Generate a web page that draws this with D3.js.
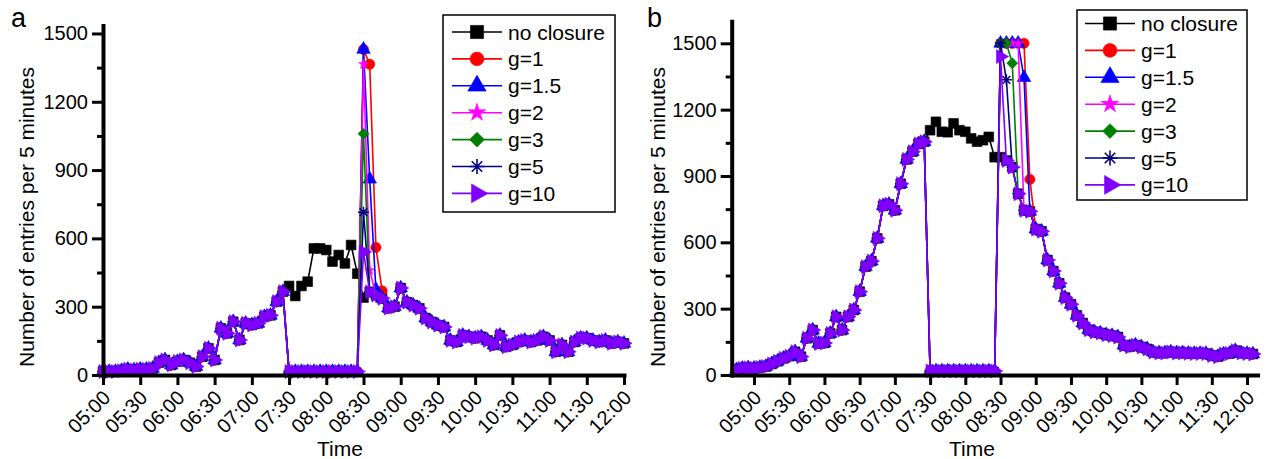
<!DOCTYPE html>
<html><head><meta charset="utf-8">
<script src="https://cdn.jsdelivr.net/npm/d3@7"></script>
<style>
body{margin:0;background:#fff;}
svg{display:block;font-family:"Liberation Sans",Arial,sans-serif;}
.domain{stroke:#000;stroke-width:4px;stroke-linecap:square;}
.tick line{stroke:#000;stroke-width:3px;}
.tick text{fill:#000;font-size:20px;font-family:"Liberation Sans",Arial,sans-serif;}
</style></head><body>
<svg id="chart" width="1266" height="459"></svg>
<script>
// ---------- shared ----------
const seriesNames  = ["no closure","g=1","g=1.5","g=2","g=3","g=5","g=10"];
const seriesColors = ["#000000","#ff0000","#0000ff","#ff00ff","#008000","#000080","#8000ff"];
const seriesSymbols = ["square","circle","triangle","star","diamond","asterisk","triangleRight"];
const timeTickLabels = ["05:00","05:30","06:00","06:30","07:00","07:30","08:00","08:30","09:00","09:30","10:00","10:30","11:00","11:30","12:00"];
const yTickValues = [0,300,600,900,1200,1500];
const yMinorTickValues = [150,450,750,1050,1350];
const stepMinutes = 5;

// ---------- panel a ----------
const startA = "05:00";
const noClosureA = [
 15,15,15,19,25,22,25,25,29,54,66,44,          // 05:00-05:55
 59,66,54,37,80,117,66,205,183,234,154,227,    // 06:00-06:55
 220,227,256,262,322,366,391,347,391,410,556,556, // 07:00-07:55
 549,498,527,490,571,445,340,365,351,337,294,300, // 08:00-08:55
 382,320,307,293,250,233,219,211,152,145,174,168, // 09:00-09:55
 162,168,152,132,174,124,132,145,152,145,152,168, // 10:00-10:55
 152,102,132,102,145,162,162,152,145,152,139,145, // 11:00-11:55
 139                                               // 12:00
];
const closureA = ["07:30","08:25"];
const closureLevelA = 15;
const recoveryStartA = "08:30";
const recoveryA_g1  = [1430,1365,560,370];
const recoveryA_g15 = [1430,860,375];
const recoveryA_g2  = [1365,460];
const recoveryA_g3  = [1060];
const recoveryA_g5  = [715];
const recoveryA_g10 = [540];

// ---------- panel b ----------
const startB = "04:45";
const noClosureB = [
 23,30,32,                                          // 04:45-04:55
 30,34,38,50,62,75,85,105,83,166,203,143,           // 05:00-05:55
 145,188,263,203,263,294,377,490,515,618,765,772,   // 06:00-06:55
 745,865,975,1010,1045,1055,1107,1145,1100,1098,1138,1107, // 07:00-07:55
 1100,1070,1055,1062,1077,985,985,970,940,820,745,740,     // 08:00-08:55
 660,650,520,470,415,350,320,270,235,205,195,190,   // 09:00-09:55
 182,178,172,135,128,135,127,118,104,100,100,104,   // 10:00-10:55
 100,100,98,97,97,97,88,83,95,97,110,100,           // 11:00-11:55
 97,95                                              // 12:00-12:05
];
const closureB = ["07:30","08:25"];
const closureLevelB = 18;
const recoveryStartB = "08:30";
const recoveryB_g1  = [1500,1500,1500,1500,1500,885];
const recoveryB_g15 = [1500,1500,1500,1500,1345];
const recoveryB_g2  = [1500,1500,1500,1500];
const recoveryB_g3  = [1500,1500,1410];
const recoveryB_g5  = [1500,1335];
const recoveryB_g10 = [1440];

// ---------- helpers ----------
const toMin = s => { const [h,m] = s.split(":").map(Number); return h*60+m; };

function buildSeries(base, start, closure, level, recStart, rec){
  const s0 = toMin(start), c0 = toMin(closure[0]), c1 = toMin(closure[1]), r0 = toMin(recStart);
  return base.map((v,i) => {
    const t = s0 + i*stepMinutes;
    let val = v;
    if (rec !== null) {
      if (t >= c0 && t <= c1) val = level;
      const k = (t - r0)/stepMinutes;
      if (k >= 0 && k < rec.length) val = rec[k];
    }
    return {t, v: val};
  });
}

function symbolPath(type, s){
  switch(type){
    case "square": return d3.symbol(d3.symbolSquare, s*s*0.95)();
    case "circle": return d3.symbol(d3.symbolCircle, Math.PI*(s/2)*(s/2)*1.05)();
    case "triangle": return d3.symbol(d3.symbolTriangle, s*s*0.8)();
    case "triangleRight": return d3.symbol(d3.symbolTriangle, s*s*0.85)();
    case "star": return d3.symbol(d3.symbolStar, s*s*0.3)();
    case "diamond": return d3.symbol(d3.symbolSquare, s*s*0.6)();
    case "asterisk": {
      const r = s*0.55; let p = "";
      for (let a = 0; a < 4; a++){
        const ang = a*Math.PI/4;
        const dx = r*Math.cos(ang), dy = r*Math.sin(ang);
        p += `M${-dx},${-dy}L${dx},${dy}`;
      }
      return p;
    }
  }
}
function symbolRotate(type){
  if (type === "triangleRight") return 90;
  if (type === "diamond") return 45;
  return 0;
}

const svg = d3.select("#chart");

function drawPanel(cfg){
  const x = d3.scaleLinear().domain(cfg.xDomain).range(cfg.xRange);
  const y = d3.scaleLinear().domain(cfg.yDomain).range(cfg.yRange);
  const g = svg.append("g");

  const all = [
    buildSeries(cfg.base, cfg.start, cfg.closure, cfg.level, cfg.recStart, null),
    ...cfg.recs.map(r => buildSeries(cfg.base, cfg.start, cfg.closure, cfg.level, cfg.recStart, r))
  ];
  const line = d3.line().x(d => x(d.t)).y(d => y(d.v));
  all.forEach((data, si) => {
    const col = seriesColors[si];
    g.append("path").datum(data).attr("d", line)
      .attr("fill","none").attr("stroke",col).attr("stroke-width",1.6).attr("stroke-linejoin","round");
    const sym = seriesSymbols[si];
    const sp = symbolPath(sym, cfg.marker);
    g.selectAll(null).data(data).enter().append("path")
      .attr("d", sp)
      .attr("transform", d => `translate(${x(d.t)},${y(d.v)}) rotate(${symbolRotate(sym)})`)
      .attr("fill", sym === "asterisk" ? "none" : col)
      .attr("stroke", col)
      .attr("stroke-width", sym === "asterisk" ? 1.5 : 0.6);
  });

  const yAxis = d3.axisLeft(y).tickValues(yTickValues).tickSize(11).tickSizeOuter(0).tickPadding(4)
    .tickFormat(d3.format("d"));
  const ya = g.append("g").attr("transform",`translate(${cfg.xRange[0]},0)`).call(yAxis);
  const yMinor = d3.axisLeft(y).tickValues(yMinorTickValues).tickSize(6).tickSizeOuter(0).tickFormat("");
  const ym = g.append("g").attr("transform",`translate(${cfg.xRange[0]},0)`).call(yMinor);
  ym.select(".domain").remove();

  const tickMins = timeTickLabels.map(toMin);
  const xAxis = d3.axisBottom(x).tickValues(tickMins).tickSize(10).tickSizeOuter(0)
    .tickFormat((d,i) => timeTickLabels[i]);
  const xa = g.append("g").attr("transform",`translate(0,${cfg.yRange[0]})`).call(xAxis);

  xa.selectAll(".tick text")
    .attr("x",0).attr("y",0).attr("dy",0)
    .attr("text-anchor","end")
    .attr("transform","translate(8,24) rotate(-45)");

  g.append("text").attr("x", cfg.yTitleX).attr("y", 217)
    .attr("transform", `rotate(-90,${cfg.yTitleX},217)`)
    .attr("text-anchor","middle").attr("dominant-baseline","middle")
    .attr("font-size",21).text("Number of entries per 5 minutes");
  g.append("text").attr("x", cfg.xTitleX).attr("y", 456)
    .attr("text-anchor","middle").attr("font-size",21).text("Time");
  g.append("text").attr("x", cfg.letterX).attr("y", 27)
    .attr("font-size",27).text(cfg.letter);

  const L = cfg.legend;
  g.append("rect").attr("x",L.x).attr("y",L.y).attr("width",L.w).attr("height",L.h)
    .attr("fill","#fff").attr("stroke","#000").attr("stroke-width",1.5);
  seriesNames.forEach((name, si) => {
    const cy = L.firstY + si*L.step;
    const col = seriesColors[si], sym = seriesSymbols[si];
    g.append("line").attr("x1",L.lineX0).attr("x2",L.lineX1).attr("y1",cy).attr("y2",cy)
      .attr("stroke",col).attr("stroke-width",1.6);
    const ls = sym === "star" ? cfg.marker*1.8 : cfg.marker*1.35;
    g.append("path").attr("d", symbolPath(sym, ls))
      .attr("transform",`translate(${(L.lineX0+L.lineX1)/2},${cy}) rotate(${symbolRotate(sym)})`)
      .attr("fill", sym === "asterisk" ? "none" : col).attr("stroke",col)
      .attr("stroke-width", sym === "asterisk" ? 1.6 : 0.6);
    g.append("text").attr("x",L.textX).attr("y",cy).attr("dy","0.36em")
      .attr("font-size",21).text(name);
  });
}

drawPanel({
  letter:"a", letterX:11,
  base: noClosureA, start: startA, closure: closureA, level: closureLevelA, recStart: recoveryStartA,
  recs: [recoveryA_g1, recoveryA_g15, recoveryA_g2, recoveryA_g3, recoveryA_g5, recoveryA_g10],
  xDomain:[toMin("05:00"), toMin("12:00")], xRange:[103, 624],
  yDomain:[0,1535], yRange:[375, 25.5],
  marker: 10,
  yTitleX: 28, xTitleX: 340,
  legend:{x:443,y:15,w:172,h:197,firstY:32,step:26.9,lineX0:452,lineX1:502,textX:508}
});
drawPanel({
  letter:"b", letterX:647,
  base: noClosureB, start: startB, closure: closureB, level: closureLevelB, recStart: recoveryStartB,
  recs: [recoveryB_g1, recoveryB_g15, recoveryB_g2, recoveryB_g3, recoveryB_g5, recoveryB_g10],
  xDomain:[toMin("05:00")-19, toMin("12:00")+9], xRange:[731.7, 1257.6],
  yDomain:[0,1600], yRange:[375, 21.2],
  marker: 10,
  yTitleX: 659, xTitleX: 972,
  legend:{x:1077,y:10,w:170,h:190,firstY:23.5,step:26.9,lineX0:1085,lineX1:1135,textX:1141}
});
</script>
</body></html>
